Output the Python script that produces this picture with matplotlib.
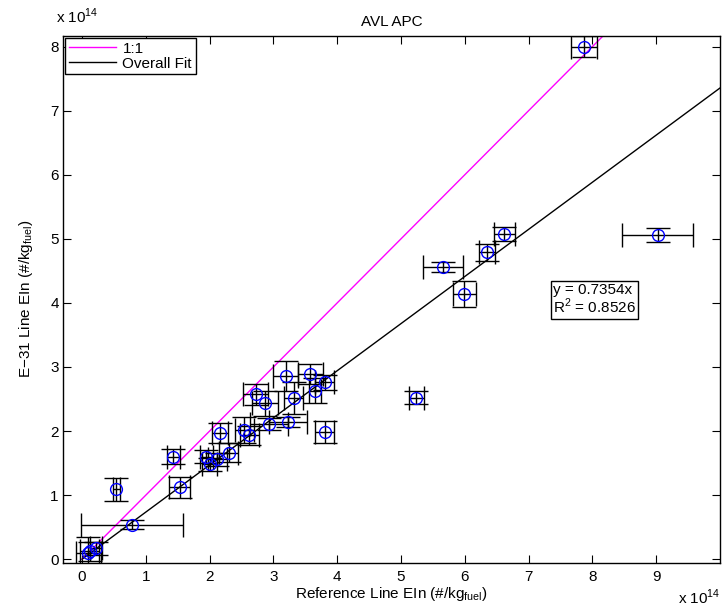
import numpy as np
import matplotlib
matplotlib.use("Agg")
import matplotlib.pyplot as plt

plt.rcParams['font.family'] = ['Liberation Sans', 'DejaVu Sans']
plt.rcParams['font.size'] = 11

# Emission index (units of 1e14 #/kg fuel): reference line vs E-31 line
ref_ein = [7.87, 9.02, 6.62, 6.34, 5.66, 5.99, 5.24, 3.80,
           3.19, 3.58, 3.80, 3.65, 3.32, 2.72, 2.87, 2.93, 3.23,
           2.54, 2.62, 2.16, 1.95, 2.00, 2.12, 2.30, 1.43,
           0.54, 1.53, 0.78, 0.12, 0.22, 0.10]
e31_ein = [8.00, 5.06, 5.08, 4.79, 4.56, 4.14, 2.52, 1.98,
           2.86, 2.89, 2.76, 2.63, 2.52, 2.57, 2.43, 2.11, 2.14,
           2.02, 1.93, 1.97, 1.60, 1.48, 1.56, 1.66, 1.60,
           1.09, 1.12, 0.54, 0.12, 0.17, 0.10]
ref_err = [0.20, 0.555, 0.17, 0.125, 0.31, 0.18, 0.12, 0.15,
           0.20, 0.20, 0.15, 0.10, 0.15, 0.20, 0.20, 0.30, 0.30,
           0.15, 0.15, 0.13, 0.10, 0.12, 0.15, 0.15, 0.10,
           0.055, 0.16, 0.80, 0.15, 0.10, 0.20]
e31_err = [0.16, 0.115, 0.11, 0.13, 0.08, 0.20, 0.10, 0.17,
           0.23, 0.15, 0.12, 0.20, 0.25, 0.17, 0.20, 0.10, 0.08,
           0.20, 0.15, 0.15, 0.10, 0.10, 0.10, 0.15, 0.12,
           0.18, 0.16, 0.07, 0.15, 0.10, 0.25]

fit_slope = 0.7354
fit_r2 = 0.8526

x_ticks = list(range(0, 10))
y_ticks = list(range(0, 9))

fig = plt.figure(figsize=(7.23, 6.09), dpi=100)
ax = fig.add_axes([0.087, 0.0755, 0.909, 0.866])

xmin, xmax = -0.3, 10.0
ymin, ymax = -0.06, 8.17

# reference lines
ax.plot([0, ymax], [0, ymax], color='#FF00FF', lw=1.0, label='1:1', zorder=2)
ax.plot([0, xmax], [0, fit_slope * xmax], color='black', lw=1.0,
        label='Overall Fit', zorder=2)

# data with error bars in both directions
ax.errorbar(ref_ein, e31_ein, xerr=ref_err, yerr=e31_err, fmt='none',
            ecolor='black', elinewidth=1.0, capsize=8.8, capthick=1.0, zorder=3)
ax.plot(ref_ein, e31_ein, linestyle='none', marker='o', markersize=8.5,
        markerfacecolor='none', markeredgecolor='blue', markeredgewidth=1.0,
        zorder=4)

ax.set_xlim(xmin, xmax)
ax.set_ylim(ymin, ymax)
ax.set_xticks(x_ticks)
ax.set_yticks(y_ticks)
ax.tick_params(direction='in', top=True, right=True, length=6, width=0.8,
               labelsize=11)
ax.tick_params(axis='y', pad=3)
ax.tick_params(axis='x', pad=5)
for s in ax.spines.values():
    s.set_linewidth(1.0)

ax.set_title('AVL APC', fontsize=11, pad=7)
ax.set_xlabel('Reference Line EIn (#/kg$_{\\mathregular{fuel}}$)', fontsize=11,
              labelpad=1)
ax.set_ylabel('E\u221231 Line EIn (#/kg$_{\\mathregular{fuel}}$)', fontsize=11,
              labelpad=11)

# axis multipliers
fig.text(0.077, 0.958, 'x 10$^{\\mathregular{14}}$', fontsize=11, ha='left',
         va='bottom')
fig.text(0.997, 0.003, 'x 10$^{\\mathregular{14}}$', fontsize=11, ha='right',
         va='bottom')

leg = ax.legend(loc='upper left', fancybox=False, framealpha=1,
                edgecolor='black', borderaxespad=0.15, handlelength=3.1,
                handletextpad=0.4, fontsize=11, borderpad=0.25,
                labelspacing=0.05)
leg.get_frame().set_linewidth(1.0)

ax.text(7.38, 4.05, 'y = %.4fx\nR$^{\\mathregular{2}}$ = %.4f' % (fit_slope, fit_r2),
        fontsize=11, ha='left', va='center', linespacing=1.0,
        bbox=dict(boxstyle='square,pad=0.15', facecolor='white',
                  edgecolor='black', linewidth=1.0))

fig.savefig('out.png', dpi=100)
